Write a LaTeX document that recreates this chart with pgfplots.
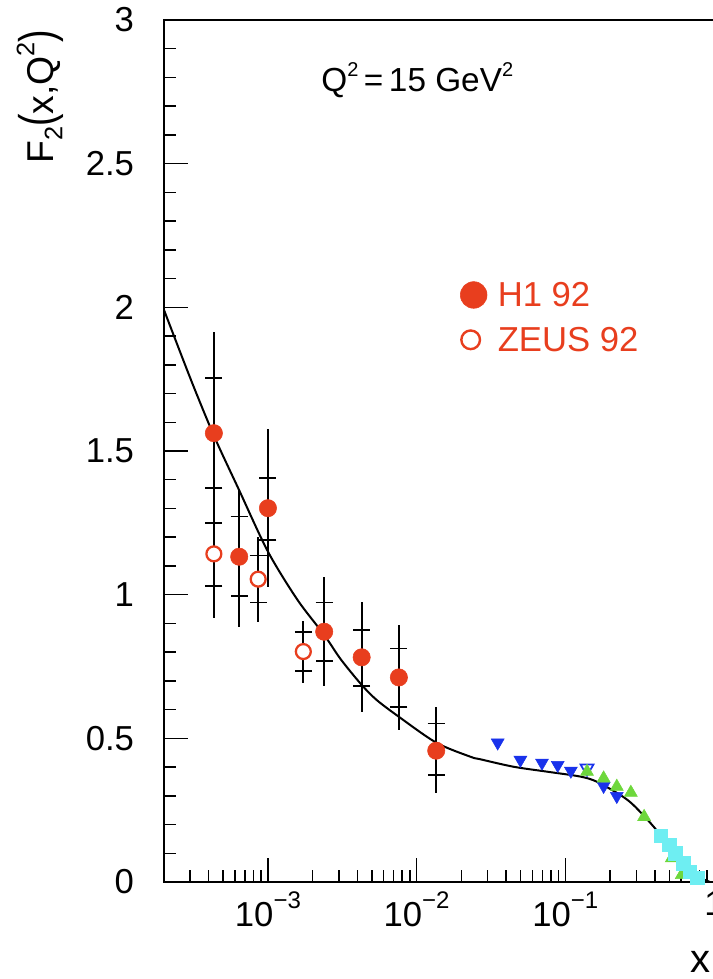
\documentclass[border=0pt]{standalone}
\usepackage{graphicx}
\usepackage{pgfplots}
\pgfplotsset{compat=1.18}
\usepackage{pgfplotstable}
\usepackage{fontspec}
\setmainfont{Liberation Sans}
\definecolor{hred}{RGB}{232,62,30}
\definecolor{sblue}{RGB}{25,50,235}
\definecolor{bgreen}{RGB}{110,215,60}
\definecolor{ecyan}{RGB}{110,238,242}
\newcommand{\tl}[1]{10\raisebox{0.52em}{\fontsize{18}{18}\selectfont −#1}}

% H1 92: x y stat+ stat- tot+ tot-
\pgfplotstableread{
x y sp sm tp tm
4.33e-4 1.562 0.193 0.192 0.353 0.353
6.41e-4 1.132 0.140 0.137 0.232 0.243
1.0e-3 1.301 0.106 0.111 0.275 0.273
2.39e-3 0.871 0.102 0.102 0.192 0.189
4.27e-3 0.782 0.095 0.100 0.194 0.189
7.6e-3 0.712 0.101 0.102 0.183 0.183
1.355e-2 0.457 0.095 0.085 0.153 0.146
}\Hone
% ZEUS 92
\pgfplotstableread{
x y sp sm tp tm
4.33e-4 1.142 0.107 0.112 0.220 0.224
8.6e-4 1.054 0.082 0.081 0.146 0.148
1.73e-3 0.802 0.069 0.068 0.108 0.108
}\Zeus
% blue down triangles
\pgfplotstableread{
x y
0.0351 0.485
0.0499 0.425
0.0697 0.415
0.0889 0.407
0.109 0.387
0.181 0.334
0.222 0.299
}\Blue
% green up triangles
\pgfplotstableread{
x y
0.140 0.384
0.181 0.361
0.222 0.332
0.276 0.311
0.339 0.227
0.52 0.083
0.607 0.025
}\Green
% cyan squares
\pgfplotstableread{
x y
0.44 0.160
0.50 0.130
0.55 0.100
0.62 0.065
0.69 0.036
0.77 0.015
}\Cyan

\begin{document}
\begin{tikzpicture}
\begin{axis}[
  scale only axis, width=412.5pt, height=646.5pt,
  xmode=log, xmin=2e-4, xmax=1, ymin=0, ymax=3,
  axis line style={line width=1.2pt},
  tick style={black, line width=1.1pt},
  tick align=inside, tick pos=left,
  major tick length=18pt, minor tick length=9pt,
  xtick={1e-3,1e-2,1e-1,1}, xticklabels={\tl{3},\tl{2},\tl{1},1},
  minor xtick={3e-4,4e-4,5e-4,6e-4,7e-4,8e-4,9e-4,2e-3,3e-3,4e-3,5e-3,6e-3,7e-3,8e-3,9e-3,2e-2,3e-2,4e-2,5e-2,6e-2,7e-2,8e-2,9e-2,2e-1,3e-1,4e-1,5e-1,6e-1,7e-1,8e-1,9e-1},
  ytick={0,0.5,1,1.5,2,2.5,3}, yticklabels={0,0.5,1,1.5,2,2.5,3},
  minor ytick={0.1,0.2,0.3,0.4,0.6,0.7,0.8,0.9,1.1,1.2,1.3,1.4,1.6,1.7,1.8,1.9,2.1,2.2,2.3,2.4,2.6,2.7,2.8,2.9},
  ticklabel style={font=\fontsize{26}{26}\selectfont},
  yticklabel style={xshift=-19pt},
  xticklabel style={yshift=-4pt},
  xlabel={x},
  xlabel style={at={(axis description cs:0.976,-0.105)}, anchor=base, font=\fontsize{30}{30}\selectfont},
  ylabel={F\raisebox{-0.25em}{\fontsize{19}{19}\selectfont 2}\scalebox{1}[1.3]{(}x,Q\raisebox{0.5em}{\fontsize{19}{19}\selectfont 2}\scalebox{1}[1.3]{)}},
  ylabel style={at={(axis description cs:-0.2255,0.994)}, anchor=east, font=\fontsize{28}{28}\selectfont},
  clip=false,
]
% total error bars
\addplot[only marks, mark=none, forget plot,
  error bars/.cd, y dir=both, y explicit, error mark=none,
  error bar style={black, line width=1.3pt}]
  table[x=x, y=y, y error plus=tp, y error minus=tm] {\Hone};
\addplot[only marks, mark=none, forget plot,
  error bars/.cd, y dir=both, y explicit, error mark=none,
  error bar style={black, line width=1.3pt}]
  table[x=x, y=y, y error plus=tp, y error minus=tm] {\Zeus};
% stat error ticks
\addplot[only marks, mark=none, forget plot,
  error bars/.cd, y dir=both, y explicit, error mark=|,
  error mark options={black, mark size=6.4pt, line width=1.3pt},
  error bar style={black, line width=1.3pt}]
  table[x=x, y=y, y error plus=sp, y error minus=sm] {\Hone};
\addplot[only marks, mark=none, forget plot,
  error bars/.cd, y dir=both, y explicit, error mark=|,
  error mark options={black, mark size=6.4pt, line width=1.3pt},
  error bar style={black, line width=1.3pt}]
  table[x=x, y=y, y error plus=sp, y error minus=sm] {\Zeus};
% data markers
\addplot[only marks, mark=*, mark size=6.5pt, mark options={draw=hred, fill=hred}] table[x=x,y=y] {\Hone};
\addplot[only marks, mark=*, mark size=5.6pt, mark options={draw=hred, fill=white, line width=1.7pt}] table[x=x,y=y] {\Zeus};
\addplot[only marks, mark=triangle*, mark size=5.6pt, mark options={rotate=180, draw=sblue, fill=sblue}] table[x=x,y=y] {\Blue};
\addplot[only marks, mark=triangle, mark size=5.6pt, mark options={rotate=180, draw=sblue, fill=white, line width=1.3pt}] coordinates {(0.140,0.396)};
\addplot[only marks, mark=triangle*, mark size=5.6pt, mark options={draw=bgreen, fill=bgreen}] table[x=x,y=y] {\Green};
\addplot[only marks, mark=square*, mark size=5pt, mark options={draw=ecyan, fill=ecyan}] table[x=x,y=y] {\Cyan};
% fit curve
\addplot[black, line width=1.5pt, smooth, tension=0.5] coordinates {
(2e-4,1.991) (3.04e-4,1.747) (4.36e-4,1.55) (6.4e-4,1.364) (1e-3,1.150)
(1.58e-3,0.982) (2.39e-3,0.860) (3.09e-3,0.775) (4.27e-3,0.686) (5.4e-3,0.633)
(7.6e-3,0.575) (1.355e-2,0.485) (0.023,0.436) (0.0269,0.427) (0.045,0.401)
(0.0754,0.384) (0.126,0.367) (0.163,0.349) (0.234,0.303) (0.287,0.268)
(0.392,0.193) (0.533,0.105) (0.688,0.032) (0.83,0.012) (0.94,0.0)};
% legend
\addplot[only marks, mark=*, mark size=10pt, mark options={draw=hred, fill=hred}] coordinates {(0.0242,2.043)};
\addplot[only marks, mark=*, mark size=7pt, mark options={draw=hred, fill=white, line width=1.8pt}] coordinates {(0.0231,1.887)};
\node[anchor=west, text=hred, inner sep=0pt, font=\fontsize{26}{26}\selectfont] at (axis cs:0.035,2.043) {H1 92};
\node[anchor=west, text=hred, inner sep=0pt, font=\fontsize{26}{26}\selectfont] at (axis cs:0.035,1.887) {ZEUS 92};
\node[anchor=center, font=\fontsize{25}{25}\selectfont] at (axis cs:0.0101,2.79) {Q\raisebox{0.45em}{\fontsize{15}{15}\selectfont 2}\,=\,15 GeV\raisebox{0.45em}{\fontsize{15}{15}\selectfont 2}};
\end{axis}
\pgfresetboundingbox
\path[use as bounding box] ([shift={(-123pt,-72.75pt)}]current axis.south west) rectangle ([shift={(-1.5pt,15pt)}]current axis.north east);
\end{tikzpicture}
\end{document}
